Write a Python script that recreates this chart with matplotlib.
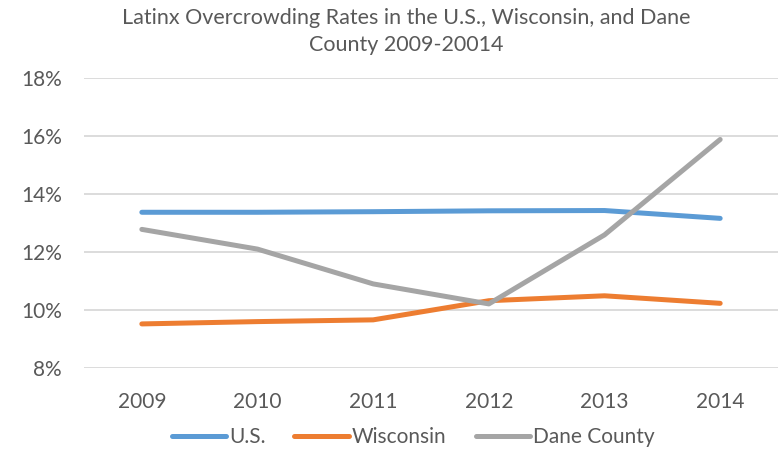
import matplotlib
matplotlib.use("Agg")
import matplotlib.pyplot as plt
from matplotlib.ticker import FuncFormatter

years = ["2009", "2010", "2011", "2012", "2013", "2014"]
us = [13.37, 13.37, 13.39, 13.42, 13.43, 13.16]
wisconsin = [9.52, 9.60, 9.66, 10.32, 10.49, 10.23]
dane = [12.78, 12.10, 10.90, 10.21, 12.59, 15.88]

title = "Latinx Overcrowding Rates in the U.S., Wisconsin, and Dane\nCounty 2009-20014"
text_color = "#595959"

plt.rcParams["font.family"] = ["Lato", "DejaVu Sans"]

fig = plt.figure(figsize=(7.78, 4.51), dpi=100)
ax = fig.add_axes([84/778, 1 - 368/451, 694/778, 290/451])

x = range(len(years))
ax.plot(x, us, color="#5B9BD5", lw=3.6, solid_capstyle="round", label="U.S.")
ax.plot(x, wisconsin, color="#ED7D31", lw=3.6, solid_capstyle="round", label="Wisconsin")
ax.plot(x, dane, color="#A5A5A5", lw=3.6, solid_capstyle="round", label="Dane County")

ax.set_xlim(-0.5, len(years) - 0.5)
ax.set_ylim(8, 18)
ax.set_yticks(range(8, 19, 2))
ax.yaxis.set_major_formatter(FuncFormatter(lambda v, p: f"{v:.0f}%"))
ax.set_xticks(list(x))
ax.set_xticklabels(years)
ax.grid(axis="y", color="#D9D9D9", lw=1.3)
ax.set_axisbelow(True)
for s in ax.spines.values():
    s.set_visible(False)
ax.tick_params(axis="both", length=0, labelsize=15, labelcolor=text_color)
ax.tick_params(axis="y", pad=16)
ax.tick_params(axis="x", pad=17)

fig.text(406/778, 1 - 31.5/451, title, ha="center", va="center", fontsize=15.5,
         color=text_color, linespacing=1.4)

fig.legend(loc="center", bbox_to_anchor=(413/778, 1 - 437/451), ncol=3, frameon=False,
           fontsize=15, labelcolor=text_color, handlelength=2.6, handletextpad=0.15,
           columnspacing=1.4)

fig.savefig("out.png", dpi=100)
